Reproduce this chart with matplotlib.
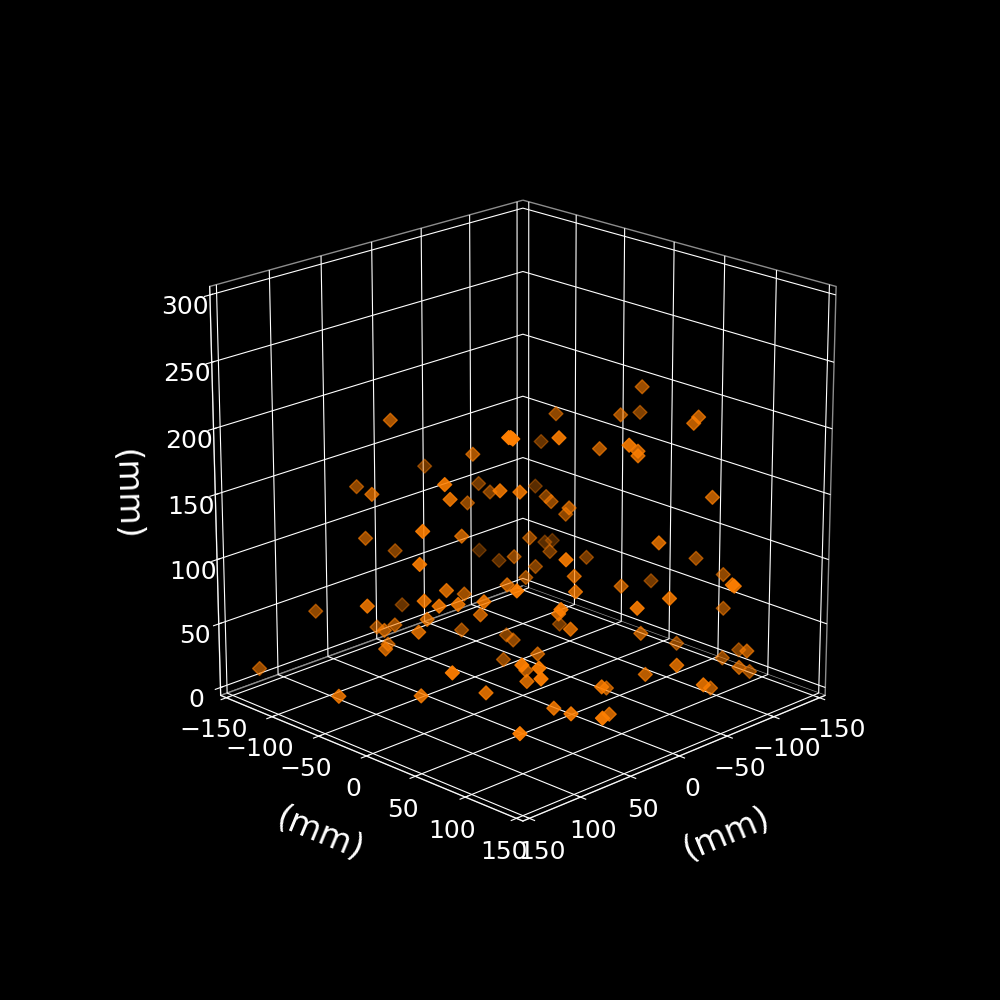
import matplotlib
matplotlib.use('Agg')
import matplotlib.pyplot as plt

plt.style.use('dark_background')

x_mm = [50,53,14,2,60,82,73,63,-23,-18,37,6,74,92,44,42,-41,-40,99,-94,-55,-78,-109,-97,-93,52,51,-73,8,-51,
        -26,-50,-49,27,-72,-46,-37,-25,-43,-90,-20,-67,-81,-48,-9,25,-66,-44,-102,-28,-11,-6,6,29,65,-38,-95,-30,-2,-113,
        -64,-65,-107,36,18,-40,15,-40,-77,-1,6,16,15,75,25,67,46,68,-118,-91,-98,-32,-84,-109,-25,-33,-66,19,-13,47,
        49,10,44,88,103,123,29,93,71,33,87,77,64,48,74,90,74,92,76,31,81,102,147,111,148,111,78]
y_mm = [-85,39,-37,-100,-111,-71,-5,-10,-69,-52,14,-51,-87,-8,-18,-90,-87,-65,-4,28,-21,22,12,81,80,40,41,-54,44,27,
        80,66,67,24,-59,-22,-8,22,1,102,-13,-44,-50,-20,-18,68,0,93,76,-15,-8,46,59,13,59,62,38,117,112,93,
        146,147,99,74,54,-2,63,80,81,-18,-4,31,-5,74,28,83,50,86,105,137,107,123,136,124,99,148,125,98,72,78,
        97,97,123,85,-110,-33,-97,-6,-6,-27,3,12,25,5,-76,-51,-57,-13,-21,-32,-57,-37,-123,41,-37,9,41]
z_mm = [198,216,175,147,143,153,175,160,135,134,166,132,113,144,125,94,73,71,122,216,193,197,189,205,201,216,215,159,206,179,
        201,187,184,165,123,131,133,139,124,151,108,84,80,88,95,125,84,126,94,83,81,98,93,92,110,86,68,94,93,83,
        103,102,60,92,78,38,68,54,36,36,38,40,25,61,29,59,33,52,26,42,26,44,31,17,32,36,17,35,17,21,
        23,11,26,16,58,89,46,92,94,75,89,90,92,72,47,56,54,66,69,45,41,49,22,56,26,29,31]
x_ticks = [-150,-100,-50,0,50,100,150]
y_ticks = [-150,-100,-50,0,50,100,150]
z_ticks = [0,50,100,150,200,250,300]

fig = plt.figure(figsize=(10,10), dpi=100)
ax = fig.add_subplot(projection='3d')
ax.set_box_aspect((1,1,1), zoom=.95)
ax.view_init(elev=20, azim=45)
m = 6.25
ax.set_xlim(-150-m, 150+m)
ax.set_ylim(-150-m, 150+m)
ax.set_zlim(0-m, 300+m)
ax.set_xticks(x_ticks)
ax.set_yticks(y_ticks)
ax.set_zticks(z_ticks)
for a in (ax.xaxis, ax.yaxis, ax.zaxis):
    a.set_rotate_label(True)
ax.set_xlabel('(mm)', fontsize=24, labelpad=21)
ax.set_ylabel('(mm)', fontsize=24, labelpad=21)
ax.set_zlabel('(mm)', fontsize=24, labelpad=21)
ax.tick_params(labelsize=18)
for a in (ax.xaxis, ax.yaxis, ax.zaxis):
    a.set_pane_color((0,0,0,1))
    a.pane.set_edgecolor((.55,.55,.55,1))
ax.scatter(x_mm, y_mm, z_mm, marker='D', s=50, color='#ff7f00')
fig.savefig('out.png', dpi=100)
